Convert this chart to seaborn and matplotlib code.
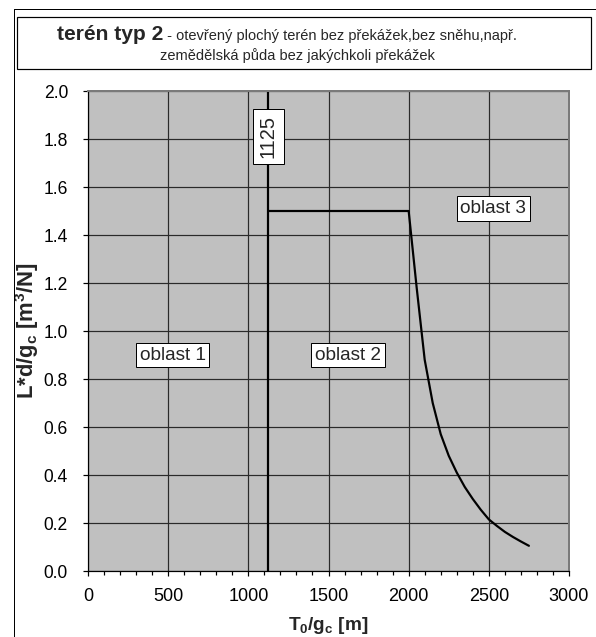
import matplotlib
matplotlib.use("Agg")
import matplotlib.pyplot as plt
from matplotlib import font_manager
from matplotlib.font_manager import FontProperties
from matplotlib.patches import Rectangle
from matplotlib.lines import Line2D
from matplotlib.ticker import MultipleLocator, FormatStrFormatter
import pandas as pd
import seaborn as sns

# Boundary between oblast 2 and oblast 3: flat step, then the falling curve
boundary_x = [1125, 2000, 2050, 2100, 2150, 2200, 2250, 2300, 2350, 2400,
              2450, 2500, 2550, 2600, 2650, 2700, 2750]
boundary_y = [1.50, 1.50, 1.18, 0.88, 0.70, 0.57, 0.48, 0.41, 0.35, 0.30,
              0.255, 0.215, 0.188, 0.163, 0.142, 0.123, 0.105]

# Boundary between oblast 1 and oblast 2
split_x = [1125, 1125]
split_y = [0.0, 2.0]

region_names = ["oblast 1", "oblast 2", "oblast 3"]
region_x = [528, 1622, 2528]
region_y = [0.90, 0.90, 1.51]

x_ticks = [0, 500, 1000, 1500, 2000, 2500, 3000]
y_ticks = [0.0, 0.2, 0.4, 0.6, 0.8, 1.0, 1.2, 1.4, 1.6, 1.8, 2.0]

title_bold = "terén typ 2"
title_rest = " - otevřený plochý terén bez překážek,bez sněhu,např."
title_line2 = "zemědělská půda bez jakýchkoli překážek"

W, H, DPI = 596, 637, 72

sns.set_theme(style="ticks")
plt.rcParams["font.family"] = ["Liberation Sans", "DejaVu Sans"]
plt.rcParams["mathtext.fontset"] = "custom"
plt.rcParams["mathtext.rm"] = "Liberation Sans"
plt.rcParams["mathtext.it"] = "Liberation Sans:italic"
plt.rcParams["mathtext.bf"] = "Liberation Sans:bold"

# condensed face for the long title text, if available
try:
    font_manager.findfont(FontProperties(family="Liberation Sans Narrow"),
                          fallback_to_default=False)
    narrow_family, narrow_size = "Liberation Sans Narrow", 17.6
except Exception:
    narrow_family, narrow_size = "Liberation Sans", 14.6


def px_box(left, top, right, bottom):
    return [left / W, 1 - bottom / H, (right - left) / W, (bottom - top) / H]


fig = plt.figure(figsize=(W / DPI, H / DPI), dpi=DPI, facecolor="white")
ax = fig.add_axes(px_box(88, 91, 569, 571))
ax.set_facecolor("#C0C0C0")

df = pd.DataFrame({"T0": boundary_x, "L": boundary_y})
sns.lineplot(data=df, x="T0", y="L", sort=False, estimator=None,
             color="black", linewidth=2.2, ax=ax)
sns.lineplot(x=split_x, y=split_y, sort=False, estimator=None,
             color="black", linewidth=2.2, ax=ax)

ax.set_xlim(0, 3000)
ax.set_ylim(0, 2.0)
ax.set_xticks(x_ticks)
ax.set_yticks(y_ticks)
ax.xaxis.set_minor_locator(MultipleLocator(100))
ax.yaxis.set_major_formatter(FormatStrFormatter("%.1f"))
ax.grid(True, which="major", color="#2a2a2a", linewidth=1.2)
ax.set_axisbelow(True)

for side in ("left", "bottom"):
    ax.spines[side].set_color("black")
    ax.spines[side].set_linewidth(1.2)
for side in ("top", "right"):
    ax.spines[side].set_visible(True)
    ax.spines[side].set_color("#7a7a7a")
    ax.spines[side].set_linewidth(2.0)

ax.tick_params(axis="both", which="major", direction="out", length=5,
               width=1.2, color="black", labelcolor="black")
ax.tick_params(axis="x", which="major", pad=12, labelsize=18)
ax.tick_params(axis="y", which="major", pad=15, labelsize=17.5)
ax.tick_params(axis="x", which="minor", direction="out", length=4,
               width=1.2, color="black")

ax.set_xlabel(r"T$_\mathbf{0}$/g$_\mathbf{c}$ [m]", fontsize=19,
              fontweight="bold", labelpad=10)
ax.set_ylabel(r"L*d/g$_\mathbf{c}$ [m$^\mathbf{3}$/N]", fontsize=22,
              fontweight="bold")
ax.yaxis.set_label_coords(-0.097, 0.5)

box = dict(boxstyle="square,pad=0.2", fc="white", ec="black", lw=1)
for name, rx, ry in zip(region_names, region_x, region_y):
    ax.text(rx, ry, name, ha="center", va="center", fontsize=19, bbox=box)

ax.text(split_x[0], 1.81, str(split_x[0]), rotation=90, ha="center",
        va="center", fontsize=20,
        bbox=dict(boxstyle="square,pad=0.3", fc="white", ec="black", lw=1))

# chart frame and title box
fig.add_artist(Line2D([13.5 / W, 13.5 / W], [0, 1 - 8.5 / H],
                      transform=fig.transFigure, color="black", lw=1))
fig.add_artist(Line2D([13.5 / W, 1], [1 - 8.5 / H, 1 - 8.5 / H],
                      transform=fig.transFigure, color="black", lw=1))
fig.add_artist(Rectangle((17 / W, 1 - 69 / H), (591 - 17) / W, (69 - 17) / H,
                         transform=fig.transFigure, fill=False,
                         ec="black", lw=1.2))

renderer = fig.canvas.get_renderer()
t1 = fig.text(57 / W, 1 - 40 / H, title_bold, fontsize=21, fontweight="bold",
              va="baseline", ha="left")
w1 = t1.get_window_extent(renderer).width
fig.text((57 + w1) / W, 1 - 40 / H, title_rest, fontsize=narrow_size,
         family=[narrow_family, "DejaVu Sans"], va="baseline", ha="left")
fig.text(297.5 / W, 1 - 60 / H, title_line2, fontsize=narrow_size,
         family=[narrow_family, "DejaVu Sans"], va="baseline", ha="center")

fig.savefig("out.png", dpi=DPI, facecolor="white")
